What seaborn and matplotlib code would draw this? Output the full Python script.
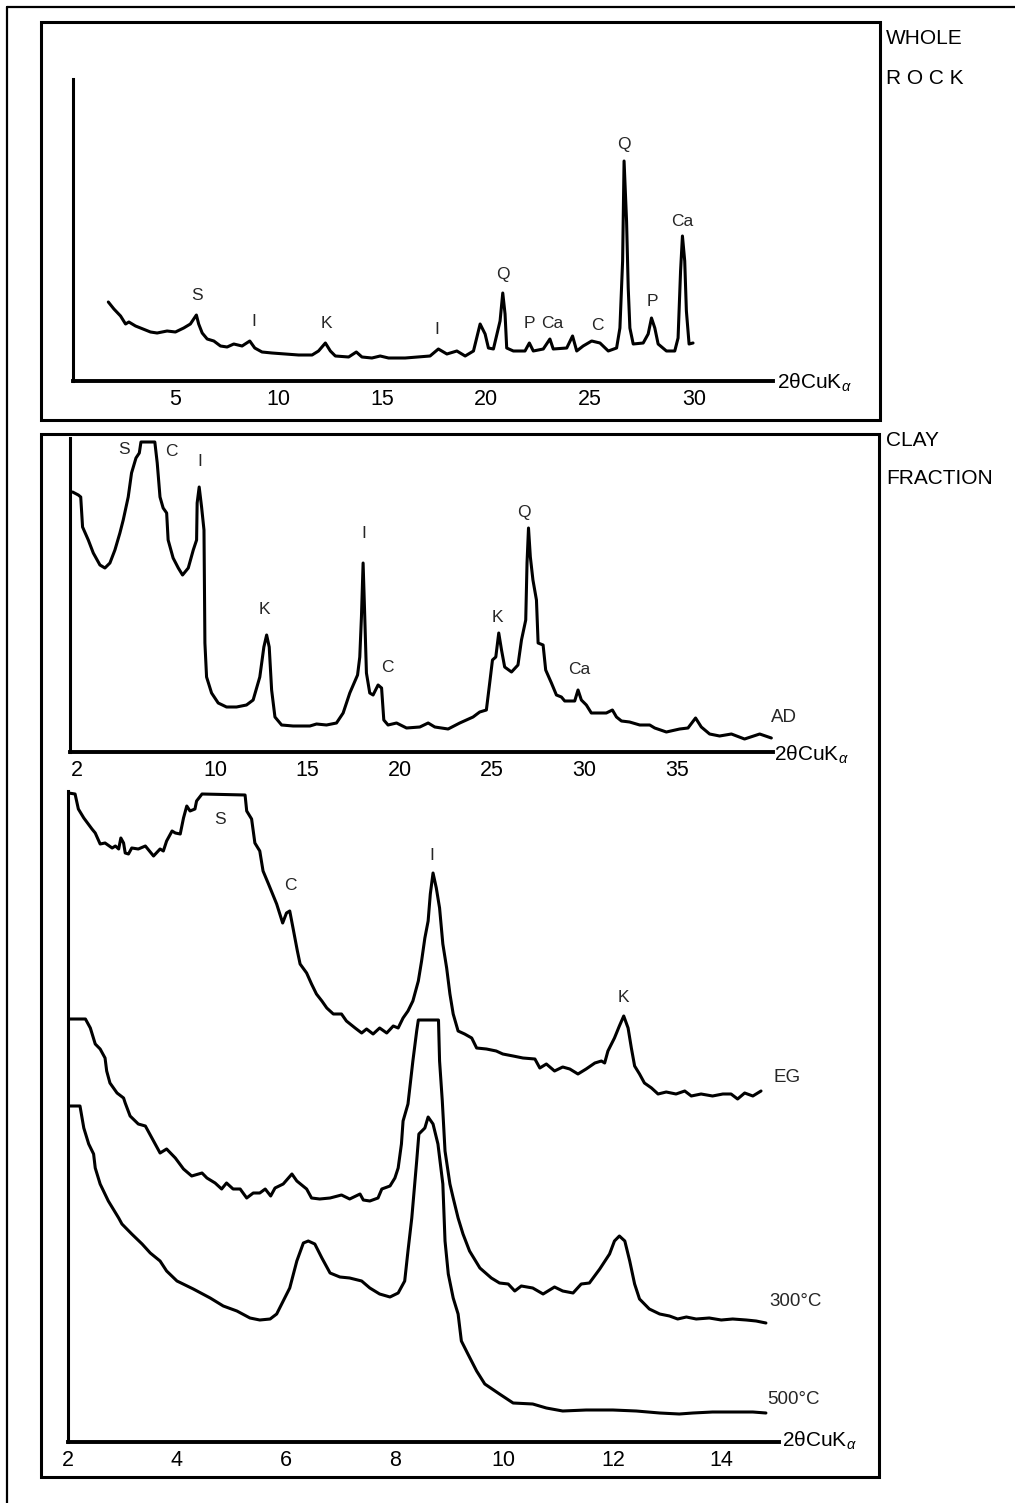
import matplotlib
matplotlib.use('Agg')
import matplotlib.pyplot as plt
import seaborn as sns
from matplotlib.patches import Rectangle
from matplotlib.lines import Line2D

# ---- whole rock (2theta, intensity in arbitrary units) ----
wr_2theta = [1.80, 2.07, 2.39, 2.63, 2.79, 3.11, 3.59, 3.83, 4.15, 4.63,
             5.03, 5.43, 5.75, 6.04, 6.15, 6.32, 6.56, 6.88, 7.20, 7.52,
             7.84, 8.24, 8.61, 8.85, 9.20, 9.68, 10.32, 10.96, 11.61, 11.92,
             12.25, 12.49, 12.73, 13.37, 13.74, 14.01, 14.49, 14.89, 15.29, 16.09,
             17.29, 17.69, 18.10, 18.58, 18.98, 19.38, 19.70, 19.94, 20.10, 20.34,
             20.66, 20.79, 20.90, 20.98, 21.30, 21.86, 22.07, 22.26, 22.74, 23.06,
             23.22, 23.87, 24.15, 24.35, 24.66, 25.07, 25.47, 25.87, 26.27, 26.43,
             26.56, 26.63, 26.75, 26.83, 26.91, 27.07, 27.55, 27.79, 27.95, 28.11,
             28.27, 28.67, 29.07, 29.23, 29.35, 29.44, 29.55, 29.63, 29.76, 29.95]
wr_int = [79, 72, 65, 57, 59, 55, 51, 49, 48, 50,
          49, 53, 57, 66, 57, 48, 42, 40, 35, 34,
          37, 35, 40, 33, 29, 28, 27, 26, 26, 30,
          38, 30, 25, 24, 29, 24, 23, 25, 23, 23,
          25, 32, 27, 30, 25, 30, 57, 47, 33, 32,
          60, 88, 67, 33, 30, 30, 38, 30, 32, 42,
          32, 33, 45, 30, 35, 40, 38, 30, 33, 53,
          120, 220, 160, 93, 53, 37, 38, 47, 63, 53,
          37, 30, 30, 43, 110, 145, 120, 70, 37, 38]
wr_peaks = ['S', 'I', 'K', 'I', 'Q', 'P', 'Ca', 'C', 'Q', 'P', 'Ca']
wr_peak_x = [6.05, 8.8, 12.3, 17.6, 20.8, 22.05, 23.15, 25.35, 26.6, 28.0, 29.45]
wr_peak_y = [85, 59, 57, 52, 107, 58, 58, 55, 237, 80, 159]

# ---- clay fraction, air dried ----
ad_2theta = [2.30, 2.61, 2.74, 2.84, 3.15, 3.42, 3.78, 4.05, 4.32, 4.59,
             4.86, 5.04, 5.31, 5.49, 5.73, 5.91, 6.00, 6.75, 6.88, 7.03,
             7.20, 7.39, 7.47, 7.74, 8.02, 8.25, 8.56, 8.83, 9.01, 9.04,
             9.15, 9.28, 9.41, 9.46, 9.55, 9.82, 10.18, 10.63, 11.17, 11.71,
             12.07, 12.43, 12.65, 12.80, 12.94, 13.07, 13.25, 13.61, 14.23, 15.14,
             15.50, 16.04, 16.58, 16.94, 17.30, 17.72, 17.84, 17.93, 18.02, 18.11,
             18.20, 18.38, 18.56, 18.83, 19.02, 19.14, 19.37, 19.83, 20.37, 21.09,
             21.54, 21.90, 22.62, 23.25, 23.97, 24.33, 24.69, 24.87, 25.02, 25.20,
             25.36, 25.51, 25.68, 26.05, 26.40, 26.59, 26.82, 26.89, 26.97, 27.07,
             27.21, 27.40, 27.49, 27.76, 27.90, 28.21, 28.48, 28.75, 28.93, 29.47,
             29.65, 29.83, 30.10, 30.37, 31.18, 31.51, 31.73, 32.00, 32.44, 32.99,
             33.53, 33.80, 34.43, 35.15, 35.60, 36.01, 36.32, 36.77, 37.31, 37.95,
             38.66, 39.48, 40.11]
ad_int = [260, 257, 255, 225, 212, 199, 187, 184, 189, 202,
          219, 232, 255, 279, 294, 299, 310, 310, 289, 255,
          244, 239, 212, 194, 184, 177, 184, 202, 212, 249,
          265, 245, 222, 109, 75, 59, 49, 45, 45, 47,
          52, 75, 105, 117, 105, 62, 35, 27, 26, 26,
          28, 27, 29, 39, 59, 77, 95, 135, 189, 135,
          79, 59, 57, 67, 64, 32, 27, 29, 24, 25,
          29, 25, 23, 29, 35, 40, 42, 69, 92, 95,
          119, 102, 85, 80, 87, 112, 132, 189, 224, 195,
          172, 152, 109, 107, 82, 69, 57, 55, 51, 51,
          62, 52, 47, 39, 39, 42, 35, 31, 30, 27,
          27, 24, 20, 23, 24, 34, 25, 18, 16, 18,
          13, 18, 14]
ad_peaks = ['S', 'C', 'I', 'K', 'I', 'C', 'K', 'Q', 'Ca']
ad_peak_x = [5.08, 7.62, 9.19, 12.7, 18.06, 19.36, 25.3, 26.7, 29.74]
ad_peak_y = [303, 301, 290, 142, 219, 85, 135, 239, 82]

# ---- clay fraction, glycolated and heated ----
eg_2theta = [2.01, 2.13, 2.19, 2.29, 2.44, 2.50, 2.59, 2.68, 2.81, 2.87,
             2.93, 2.97, 3.02, 3.05, 3.11, 3.17, 3.29, 3.42, 3.57, 3.69,
             3.75, 3.81, 3.91, 3.97, 4.06, 4.12, 4.18, 4.24, 4.33, 4.36,
             4.46, 5.25, 5.28, 5.37, 5.43, 5.52, 5.58, 5.68, 5.83, 5.94,
             6.01, 6.07, 6.13, 6.21, 6.26, 6.38, 6.47, 6.56, 6.66, 6.75,
             6.87, 7.02, 7.11, 7.27, 7.39, 7.48, 7.60, 7.72, 7.85, 7.97,
             8.06, 8.15, 8.24, 8.33, 8.43, 8.49, 8.55, 8.61, 8.65, 8.70,
             8.76, 8.82, 8.88, 8.95, 9.01, 9.07, 9.16, 9.28, 9.41, 9.50,
             9.68, 9.86, 9.98, 10.17, 10.35, 10.57, 10.66, 10.78, 10.93, 11.08,
             11.21, 11.36, 11.51, 11.67, 11.79, 11.85, 11.91, 12.03, 12.12, 12.20,
             12.28, 12.34, 12.40, 12.49, 12.58, 12.71, 12.83, 12.98, 13.16, 13.32,
             13.44, 13.62, 13.83, 14.02, 14.17, 14.29, 14.42, 14.57, 14.72]
eg_int = [649, 648, 633, 624, 613, 609, 598, 599, 594, 596,
          593, 604, 599, 589, 588, 594, 593, 596, 586, 593,
          591, 601, 611, 609, 608, 624, 636, 631, 633, 641,
          648, 647, 631, 623, 599, 591, 571, 558, 538, 519,
          529, 531, 514, 491, 478, 469, 458, 448, 441, 434,
          428, 428, 421, 414, 409, 413, 408, 414, 409, 416,
          414, 424, 431, 441, 461, 481, 504, 521, 548, 569,
          554, 534, 498, 474, 448, 428, 411, 408, 404, 394,
          393, 391, 388, 386, 384, 383, 374, 378, 371, 375,
          373, 368, 373, 379, 381, 379, 391, 404, 416, 426,
          414, 394, 376, 368, 359, 354, 348, 350, 348, 351,
          346, 348, 346, 348, 348, 343, 349, 346, 351]
t300_2theta = [2.01, 2.32, 2.41, 2.50, 2.59, 2.68, 2.71, 2.77, 2.90, 3.02,
               3.05, 3.14, 3.29, 3.42, 3.54, 3.69, 3.81, 3.97, 4.12, 4.27,
               4.46, 4.55, 4.70, 4.82, 4.91, 5.03, 5.16, 5.28, 5.40, 5.52,
               5.62, 5.72, 5.80, 5.95, 6.11, 6.20, 6.38, 6.47, 6.62, 6.81,
               7.02, 7.17, 7.36, 7.42, 7.54, 7.69, 7.76, 7.91, 8.00, 8.06,
               8.12, 8.15, 8.24, 8.33, 8.40, 8.43, 8.80, 8.82, 8.87, 8.92,
               9.01, 9.07, 9.16, 9.25, 9.37, 9.56, 9.77, 9.92, 10.08, 10.20,
               10.32, 10.53, 10.72, 10.93, 11.08, 11.27, 11.42, 11.57, 11.76, 11.94,
               12.03, 12.12, 12.22, 12.31, 12.40, 12.49, 12.67, 12.86, 13.04, 13.19,
               13.35, 13.53, 13.77, 13.99, 14.20, 14.45, 14.63, 14.81]
t300_int = [423, 423, 414, 398, 393, 384, 371, 359, 349, 344,
            339, 326, 318, 316, 304, 289, 293, 284, 273, 266,
            269, 264, 259, 253, 259, 253, 253, 244, 249, 249,
            253, 246, 254, 258, 268, 261, 253, 244, 243, 244,
            247, 243, 248, 242, 241, 244, 253, 256, 264, 274,
            298, 321, 338, 381, 411, 422, 422, 381, 341, 291,
            258, 244, 224, 208, 191, 174, 164, 159, 158, 151,
            156, 154, 148, 155, 151, 149, 158, 159, 173, 188,
            201, 206, 201, 181, 158, 143, 133, 128, 126, 123,
            125, 123, 124, 122, 123, 122, 121, 119]
t500_2theta = [2.01, 2.22, 2.29, 2.38, 2.47, 2.50, 2.59, 2.74, 2.93, 2.99,
               3.17, 3.36, 3.51, 3.69, 3.81, 4.00, 4.30, 4.61, 4.85, 5.10,
               5.34, 5.52, 5.71, 5.83, 5.95, 6.07, 6.20, 6.32, 6.41, 6.53,
               6.66, 6.81, 6.99, 7.17, 7.39, 7.54, 7.72, 7.91, 8.06, 8.18,
               8.24, 8.31, 8.40, 8.44, 8.55, 8.61, 8.70, 8.79, 8.88, 8.92,
               8.98, 9.07, 9.16, 9.22, 9.34, 9.50, 9.65, 9.92, 10.17, 10.53,
               10.78, 11.08, 11.51, 12.00, 12.43, 12.86, 13.22, 13.47, 13.83, 14.20,
               14.57, 14.81]
t500_int = [336, 336, 314, 298, 288, 274, 258, 241, 224, 218,
            208, 198, 189, 181, 171, 161, 153, 144, 136, 131,
            124, 122, 123, 128, 141, 154, 181, 199, 201, 198,
            184, 169, 165, 164, 161, 154, 148, 145, 149, 161,
            191, 224, 281, 308, 314, 325, 318, 298, 258, 201,
            168, 144, 128, 101, 88, 71, 58, 48, 39, 38,
            34, 31, 32, 32, 31, 29, 28, 29, 30, 30,
            30, 29]
eg_peaks = ['S', 'C', 'I', 'K']
eg_peak_x = [4.79, 6.09, 8.68, 12.2]
eg_peak_y = [623, 556, 586, 444]
trace_names = ['EG', '300°C', '500°C']
trace_name_x = [15.2, 15.35, 15.32]
trace_name_y = [364, 141, 43]

W, H = 1015, 1503
sns.set_style('white')
plt.rcParams['font.family'] = ['Liberation Sans', 'DejaVu Sans']
plt.rcParams['mathtext.fontset'] = 'custom'
plt.rcParams['mathtext.rm'] = 'Liberation Sans'
plt.rcParams['mathtext.it'] = 'Liberation Sans:italic'

fig = plt.figure(figsize=(W / 100, H / 100), dpi=100)
fig.patch.set_facecolor('white')


def px_axes(x0, y0, x1, y1):
    # pixel box, origin top-left
    return fig.add_axes([x0 / W, 1 - y1 / H, (x1 - x0) / W, (y1 - y0) / H])


def px_box(x0, y0, x1, y1, lw=2.2):
    fig.add_artist(Rectangle((x0 / W, 1 - y1 / H), (x1 - x0) / W, (y1 - y0) / H,
                             transform=fig.transFigure, fill=False, lw=lw, ec='black'))


def px_text(x, y, s, size=15, **kw):
    fig.text(x / W, 1 - y / H, s, fontsize=size, color='black', va='center', **kw)


def style(ax):
    for s in ['top', 'right']:
        ax.spines[s].set_visible(False)
    ax.spines['left'].set_linewidth(2.2)
    ax.spines['bottom'].set_linewidth(2.8)
    ax.spines['left'].set_color('black')
    ax.spines['bottom'].set_color('black')
    ax.set_yticks([])
    ax.set_xlabel('')
    ax.set_ylabel('')
    ax.patch.set_alpha(0)
    ax.tick_params(axis='x', direction='in', length=6, width=1.3, labelsize=15.5,
                   pad=6, colors='black')


def trace(ax, x, y):
    sns.lineplot(x=x, y=y, ax=ax, color='black', linewidth=2.2,
                 sort=False, estimator=None, errorbar=None)


# outer frame and panel boxes
fig.add_artist(Line2D([7 / W, 7 / W], [0, 1 - 7 / H], transform=fig.transFigure, color='black', lw=1.6))
fig.add_artist(Line2D([7 / W, 1], [1 - 7 / H, 1 - 7 / H], transform=fig.transFigure, color='black', lw=1.6))
px_box(41, 22, 880, 420)
px_box(41, 434, 879, 1477)

# panel 1: whole rock
ax1 = px_axes(73, 79, 773, 381)
trace(ax1, wr_2theta, wr_int)
ax1.set_xlim(0.1, 33.8)
ax1.set_ylim(0, 302)
style(ax1)
ax1.set_xticks([5, 10, 15, 20, 25, 30])
for s, x, y in zip(wr_peaks, wr_peak_x, wr_peak_y):
    ax1.text(x, y, s, ha='center', va='center', fontsize=12.5)
px_text(777, 383, '2θCuK$_{\\alpha}$')
px_text(886, 38, 'WHOLE')
px_text(886, 78, 'R O C K')

# panel 2: clay fraction, air dried
ax2 = px_axes(70, 438, 773, 752)
trace(ax2, ad_2theta, ad_int)
ax2.set_xlim(2.16, 40.2)
ax2.set_ylim(0, 314)
style(ax2)
ax2.set_xticks([5, 10, 15, 20, 25, 30, 35])
ax2.set_xticklabels(['', '10', '15', '20', '25', '30', '35'])
for s, x, y in zip(ad_peaks, ad_peak_x, ad_peak_y):
    ax2.text(x, y, s, ha='center', va='center', fontsize=12.5)
ax2.text(40.8, 35, 'AD', ha='center', va='center', fontsize=13.5)
px_text(77, 771, '2', size=15.5, ha='center')
px_text(774, 755, '2θCuK$_{\\alpha}$')
px_text(886, 440, 'CLAY')
px_text(886, 478, 'FRACTION')

# panel 3: EG, 300 C, 500 C
ax3 = px_axes(68, 791, 779, 1442)
trace(ax3, eg_2theta, eg_int)
trace(ax3, t300_2theta, t300_int)
trace(ax3, t500_2theta, t500_int)
ax3.set_xlim(2.0, 15.05)
ax3.set_ylim(0, 651)
style(ax3)
ax3.set_xticks([2, 4, 6, 8, 10, 12, 14])
ax3.set_xticks([3, 5, 7, 9, 11, 13], minor=True)
ax3.tick_params(axis='x', which='major', length=11)
ax3.tick_params(axis='x', which='minor', direction='in', length=6, width=1.3, colors='black')
for s, x, y in zip(eg_peaks, eg_peak_x, eg_peak_y):
    ax3.text(x, y, s, ha='center', va='center', fontsize=12.5)
for s, x, y in zip(trace_names, trace_name_x, trace_name_y):
    ax3.text(x, y, s, ha='center', va='center', fontsize=13.5)
px_text(782, 1441, '2θCuK$_{\\alpha}$')

fig.savefig('out.png', dpi=100, facecolor='white')
